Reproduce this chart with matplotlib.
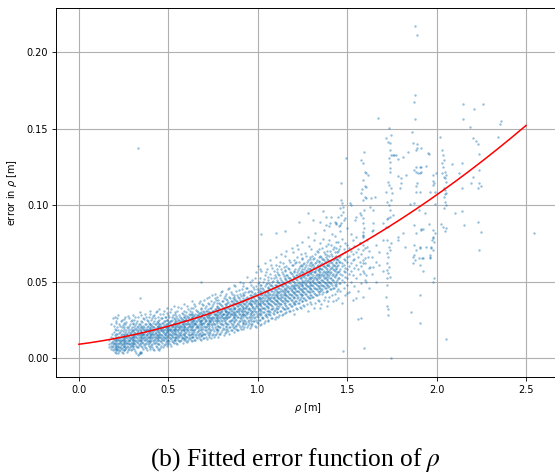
import numpy as np
import matplotlib
matplotlib.use("Agg")
import matplotlib.pyplot as plt

# ---------------- data ----------------
# dense cloud, set A: column x position [m] -> error values in mm
cloud_cols = [
    (0.17, [7, 9, 12]),
    (0.18, [6, 8, 10, 14, 22]),
    (0.19, [5, 8, 9, 11, 13, 26]),
    (0.20, [4, 7, 9, 10, 12, 15, 19, 27]),
    (0.21, [5, 6, 8, 11, 13, 16, 24]),
    (0.22, [3, 6, 8, 9, 12, 14, 18, 28]),
    (0.23, [5, 7, 10, 11, 13, 17, 21]),
    (0.24, [4, 6, 9, 12, 14, 16, 20, 25]),
    (0.25, [5, 8, 10, 11, 13, 15, 19, 23]),
    (0.26, [6, 7, 9, 12, 14, 17, 22, 27]),
    (0.27, [4, 8, 10, 13, 15, 16, 20]),
    (0.28, [6, 9, 11, 12, 14, 18, 21, 26]),
    (0.29, [5, 8, 10, 13, 15, 17, 19, 24]),
    (0.30, [7, 9, 12, 14, 16, 18, 22, 28]),
    (0.31, [6, 10, 11, 13, 15, 17, 20, 25]),
    (0.32, [3, 8, 11, 14, 16, 19, 23]),
    (0.33, [2, 7, 10, 12, 15, 17, 18, 21, 27]),
    (0.34, [3, 4, 9, 11, 13, 16, 18, 22, 30]),
    (0.35, [3, 8, 12, 14, 15, 17, 20, 24]),
    (0.36, [6, 10, 13, 15, 16, 19, 21, 26]),
    (0.37, [7, 9, 12, 14, 17, 18, 22, 29]),
    (0.38, [5, 11, 13, 15, 16, 18, 20, 25]),
    (0.39, [8, 10, 12, 14, 17, 19, 23, 27]),
    (0.40, [6, 11, 14, 15, 18, 20, 22, 31]),
    (0.41, [7, 9, 13, 16, 17, 19, 21, 26]),
    (0.42, [5, 10, 12, 15, 18, 20, 24, 28]),
    (0.43, [8, 11, 14, 16, 17, 19, 22, 30]),
    (0.44, [6, 12, 13, 15, 18, 21, 23, 27]),
    (0.45, [5, 9, 14, 16, 17, 20, 22, 25, 32]),
    (0.46, [8, 11, 13, 15, 18, 19, 21, 26]),
    (0.47, [7, 12, 14, 17, 18, 20, 23, 29]),
    (0.48, [9, 13, 15, 16, 19, 21, 24, 27]),
    (0.49, [8, 11, 14, 17, 18, 20, 22, 25, 33]),
    (0.50, [10, 12, 15, 17, 19, 21, 23, 28]),
    (0.51, [9, 13, 16, 18, 19, 22, 24, 30]),
    (0.52, [11, 14, 15, 17, 20, 21, 25, 27]),
    (0.53, [10, 12, 16, 18, 19, 22, 23, 26, 34]),
    (0.54, [12, 14, 17, 19, 20, 22, 24, 29]),
    (0.55, [9, 13, 15, 18, 21, 23, 26, 31]),
    (0.56, [11, 14, 16, 19, 20, 22, 25, 28]),
    (0.57, [12, 15, 17, 18, 21, 24, 26, 33]),
    (0.58, [10, 13, 16, 19, 22, 23, 25, 29]),
    (0.59, [13, 15, 18, 20, 21, 24, 27, 35]),
    (0.60, [11, 14, 17, 19, 22, 25, 26, 30]),
    (0.61, [12, 16, 18, 20, 23, 24, 27, 32]),
    (0.62, [13, 15, 19, 21, 22, 25, 28, 31]),
    (0.63, [11, 14, 17, 20, 23, 26, 27, 29, 37]),
    (0.64, [14, 16, 18, 21, 24, 25, 28, 33]),
    (0.65, [12, 15, 19, 22, 23, 26, 29, 34]),
    (0.66, [13, 17, 20, 21, 24, 27, 28, 31]),
    (0.67, [14, 16, 18, 22, 25, 26, 29, 36]),
    (0.68, [12, 15, 19, 23, 24, 27, 30, 33, 50]),
    (0.69, [15, 17, 20, 22, 25, 28, 29, 35]),
    (0.70, [13, 16, 21, 23, 26, 27, 30, 38]),
    (0.71, [14, 18, 20, 24, 25, 28, 31, 34]),
    (0.72, [16, 19, 22, 23, 26, 29, 32, 36]),
    (0.73, [15, 17, 21, 24, 27, 28, 30, 40]),
    (0.74, [13, 18, 22, 25, 26, 29, 33, 37]),
    (0.75, [16, 19, 23, 24, 27, 30, 31, 35]),
    (0.76, [15, 20, 22, 25, 28, 29, 32, 39, 42]),
    (0.77, [17, 19, 24, 26, 27, 30, 34, 36]),
    (0.78, [14, 18, 21, 25, 28, 31, 33, 38]),
    (0.79, [16, 20, 23, 26, 29, 30, 35, 41]),
    (0.80, [18, 22, 24, 27, 28, 31, 34, 37, 44]),
    (0.81, [15, 19, 25, 26, 29, 32, 33, 39]),
    (0.82, [17, 21, 23, 27, 30, 31, 35, 42]),
    (0.83, [19, 22, 26, 28, 29, 33, 36, 38]),
    (0.84, [16, 20, 24, 27, 30, 32, 34, 40, 46]),
    (0.85, [18, 23, 25, 29, 31, 33, 37, 43]),
    (0.86, [20, 22, 26, 28, 30, 34, 36, 39]),
    (0.87, [17, 24, 27, 29, 32, 33, 38, 41, 48]),
    (0.88, [19, 21, 25, 28, 31, 35, 37, 44]),
    (0.89, [18, 23, 27, 30, 32, 34, 36, 40]),
    (0.90, [20, 24, 26, 29, 33, 35, 38, 42, 50]),
    (0.91, [21, 25, 28, 30, 31, 34, 37, 45]),
    (0.92, [19, 23, 27, 29, 32, 36, 39, 41, 47]),
    (0.93, [22, 24, 28, 31, 33, 35, 38, 43]),
    (0.94, [20, 26, 29, 30, 34, 37, 40, 46, 53]),
    (0.95, [23, 25, 27, 32, 33, 36, 39, 44]),
    (0.96, [21, 24, 28, 31, 35, 38, 41, 48]),
    (0.97, [22, 27, 30, 33, 34, 37, 40, 43, 51]),
    (0.98, [24, 26, 29, 32, 36, 39, 42, 45]),
    (0.99, [20, 25, 30, 34, 35, 38, 41, 47, 56]),
    (1.00, [23, 27, 31, 33, 36, 40, 43, 49, 60]),
    (1.01, [25, 28, 32, 35, 37, 39, 42, 46, 52]),
    (1.02, [22, 29, 31, 34, 38, 41, 44, 48, 57]),
    (1.03, [26, 30, 33, 36, 37, 40, 45, 50]),
    (1.04, [24, 28, 32, 35, 39, 42, 43, 47, 54, 62]),
    (1.05, [27, 31, 34, 37, 38, 41, 44, 49, 58]),
    (1.06, [25, 29, 33, 36, 40, 43, 46, 51]),
    (1.07, [28, 30, 35, 38, 39, 42, 45, 48, 55, 64]),
    (1.08, [26, 32, 34, 37, 41, 44, 47, 50, 59]),
    (1.09, [29, 31, 36, 39, 40, 43, 46, 52, 57]),
    (1.10, [27, 33, 35, 38, 42, 45, 48, 53, 61, 66]),
    (1.11, [30, 32, 37, 40, 41, 44, 47, 50, 56]),
    (1.12, [28, 34, 36, 39, 43, 46, 49, 54, 60]),
    (1.13, [31, 35, 38, 40, 42, 45, 48, 51, 58, 68]),
    (1.14, [29, 33, 37, 41, 44, 47, 50, 55, 62]),
    (1.15, [32, 36, 39, 42, 43, 46, 49, 52, 57]),
    (1.16, [30, 34, 38, 41, 45, 48, 51, 54, 60, 70]),
    (1.17, [33, 37, 40, 43, 44, 47, 50, 53, 59]),
    (1.18, [31, 35, 39, 42, 46, 49, 52, 56, 63]),
    (1.19, [34, 38, 41, 44, 45, 48, 51, 55, 61, 72]),
    (1.20, [29, 36, 40, 43, 47, 50, 53, 57, 64]),
    (1.21, [35, 37, 42, 45, 46, 49, 52, 58, 62]),
    (1.22, [32, 39, 41, 44, 48, 51, 54, 56, 66, 74]),
    (1.23, [36, 38, 43, 46, 47, 50, 55, 59, 63]),
    (1.24, [33, 40, 42, 45, 49, 52, 53, 57, 61, 68]),
    (1.25, [37, 41, 44, 47, 48, 51, 56, 60, 65, 76]),
    (1.26, [34, 39, 43, 46, 50, 53, 54, 58, 62]),
    (1.27, [38, 42, 45, 48, 49, 52, 57, 61, 67]),
    (1.28, [31, 40, 44, 47, 51, 54, 55, 59, 64, 79]),
    (1.29, [39, 43, 46, 49, 50, 53, 58, 62, 66]),
    (1.30, [35, 41, 45, 48, 52, 55, 56, 60, 63, 71]),
    (1.31, [40, 44, 47, 50, 51, 54, 59, 61, 65]),
    (1.32, [36, 42, 46, 49, 53, 56, 57, 62, 68, 82]),
    (1.33, [41, 45, 48, 51, 52, 55, 60, 64, 70]),
    (1.34, [37, 43, 47, 50, 54, 57, 58, 63, 66]),
    (1.35, [33, 44, 46, 49, 53, 56, 59, 61, 67, 75]),
    (1.36, [42, 45, 48, 51, 55, 58, 62, 65, 72]),
    (1.37, [38, 47, 50, 52, 54, 57, 60, 64, 69, 84]),
    (1.38, [43, 46, 49, 53, 56, 59, 63, 66, 73]),
    (1.39, [34, 44, 48, 51, 55, 58, 61, 65, 70]),
    (1.40, [40, 47, 50, 54, 57, 60, 62, 67, 77, 86]),
    (1.41, [45, 49, 52, 56, 59, 63, 68, 74]),
    (1.42, [37, 46, 51, 55, 58, 61, 64, 71]),
    (1.43, [42, 48, 53, 57, 60, 66, 69, 80]),
    (1.44, [47, 50, 54, 59, 62, 65, 72, 88]),
    (1.45, [39, 45, 52, 56, 61, 64, 70, 76]),
    (1.46, [44, 49, 55, 58, 63, 67, 73, 83]),
    (1.47, [36, 51, 54, 60, 62, 68, 78]),
    (1.48, [46, 50, 57, 61, 65, 71, 90]),
    (1.49, [41, 53, 56, 59, 64, 69, 75]),
    (1.50, [48, 52, 58, 63, 66, 74, 85]),
    (1.51, [43, 55, 60, 67, 72]),
    (1.52, [50, 57, 62, 70, 81]),
    (1.53, [38, 54, 64, 68, 77]),
    (1.54, [47, 59, 65, 73]),
    (1.55, [52, 61, 69, 79]),
    (1.56, [44, 58, 66, 71]),
    (1.57, [55, 63, 75]),
    (1.58, [49, 60, 68]),
    (1.59, [57, 64, 80]),
    (1.60, [51, 62, 72]),
    (1.62, [46, 59, 70]),
    (1.64, [55, 66, 83]),
    (1.66, [50, 63, 74]),
    (1.68, [61, 69]),
    (1.70, [57, 77]),
]

# dense cloud, set B (columns in between set A): x [m] -> error in mm
cloud_cols_b = [
    (0.185, [7.5, 10.5, 16]),
    (0.195, [6, 9.5, 12.5, 17, 21]),
    (0.205, [3.5, 6.5, 8.5, 11.5, 14, 18, 23]),
    (0.215, [5.5, 7.5, 10, 12.5, 15.5, 20, 26]),
    (0.225, [4.5, 7, 9.5, 11.5, 13.5, 16.5, 22]),
    (0.235, [6.5, 8.5, 10.5, 12, 15, 18.5, 24]),
    (0.245, [3, 7.5, 9, 11.5, 13.5, 17.5, 21.5]),
    (0.255, [5.5, 8, 10.5, 12.5, 14.5, 16, 20.5, 25.5]),
    (0.265, [6.5, 9.5, 11, 13.5, 15.5, 18.5, 23.5]),
    (0.275, [5, 7.5, 10, 12, 14.5, 17, 19.5, 27.5]),
    (0.285, [7, 9, 11.5, 13, 15.5, 16.5, 22.5]),
    (0.295, [6, 8.5, 10.5, 12.5, 14, 17.5, 20.5, 25]),
    (0.305, [8, 10, 11.5, 13.5, 15, 18.5, 23]),
    (0.315, [4.5, 9, 12, 14.5, 16.5, 19, 21.5, 26.5]),
    (0.325, [7.5, 10.5, 13, 15.5, 17.5, 20, 24.5]),
    (0.335, [2.5, 8.5, 11.5, 13.5, 16, 19.5, 22.5]),
    (0.345, [4, 9.5, 12, 14.5, 17, 18.5, 21, 28]),
    (0.355, [7, 10.5, 13, 15.5, 16.5, 19.5, 23.5]),
    (0.365, [8.5, 11.5, 13.5, 16, 18, 20.5, 25.5]),
    (0.375, [6.5, 10, 12.5, 15, 17.5, 19, 22, 27]),
    (0.385, [9, 11, 14, 16.5, 18.5, 21, 24]),
    (0.395, [7, 10.5, 13, 15.5, 17, 19.5, 22.5, 29]),
    (0.405, [8.5, 12, 14.5, 16, 18.5, 21.5, 25]),
    (0.415, [6, 11, 13.5, 15.5, 17.5, 20, 23, 27.5]),
    (0.425, [9.5, 12.5, 14, 16.5, 19, 22, 26]),
    (0.435, [7.5, 10, 13, 15, 18, 20.5, 23.5, 31]),
    (0.445, [9, 12, 14.5, 17, 19.5, 21, 24.5]),
    (0.455, [6.5, 11, 13.5, 16, 18.5, 20, 22.5, 28.5]),
    (0.465, [10, 12.5, 15, 17.5, 19.5, 23, 26]),
    (0.475, [8.5, 11.5, 14, 16.5, 18, 21.5, 24, 30.5]),
    (0.485, [10.5, 13, 15.5, 17, 20, 22.5, 27]),
    (0.495, [9, 12, 14.5, 18.5, 19.5, 21, 25, 29.5]),
    (0.505, [11, 13.5, 16, 18, 20.5, 23.5, 26.5]),
    (0.515, [8, 12.5, 15, 17.5, 19, 21.5, 24.5, 32]),
    (0.525, [10.5, 14, 16.5, 18.5, 21, 22.5, 28]),
    (0.535, [11.5, 13, 15.5, 17.5, 20, 23, 25.5, 30]),
    (0.545, [10, 13.5, 16, 19, 21.5, 24, 27.5]),
    (0.555, [12, 14.5, 17, 18.5, 20.5, 22, 25, 33.5]),
    (0.565, [11, 15, 16.5, 19.5, 21, 23.5, 27]),
    (0.575, [13, 14, 18, 20, 22.5, 25.5, 29.5]),
    (0.585, [11.5, 15.5, 17.5, 19, 21.5, 24, 26.5, 31]),
    (0.595, [12.5, 14.5, 16.5, 20.5, 23, 25, 28]),
    (0.605, [10.5, 13.5, 18, 19.5, 22, 24.5, 27.5, 34]),
    (0.615, [13, 15, 17, 21, 22.5, 26, 29]),
    (0.625, [12, 16, 18.5, 20, 23.5, 25.5, 28.5, 32.5]),
    (0.635, [14, 15.5, 19, 21.5, 24, 26.5, 30]),
    (0.645, [11.5, 17, 18, 22, 23, 25, 27.5, 35]),
    (0.655, [13.5, 16, 20, 22.5, 24.5, 27, 31.5]),
    (0.665, [15, 17.5, 19.5, 21, 25.5, 28, 30]),
    (0.675, [12.5, 16.5, 20.5, 23.5, 24, 26.5, 29.5, 37]),
    (0.685, [14.5, 18, 21.5, 22, 25, 27.5, 32]),
    (0.695, [13, 16, 19, 23, 26, 28.5, 30.5, 34.5]),
    (0.705, [15.5, 18.5, 20, 24.5, 25.5, 29, 33]),
    (0.715, [12.5, 17, 21, 22.5, 26.5, 27.5, 31, 39]),
    (0.725, [14, 19.5, 22, 25, 28, 30, 35]),
    (0.735, [16.5, 18, 23.5, 24, 26, 29.5, 32.5]),
    (0.745, [15, 20.5, 21.5, 25.5, 27, 30.5, 34, 41]),
    (0.755, [13.5, 17.5, 22.5, 26, 28.5, 31, 36.5]),
    (0.765, [16, 19, 24.5, 27, 29, 32, 38]),
    (0.775, [18, 21, 23, 25.5, 28, 30.5, 33.5, 40]),
    (0.785, [15.5, 20, 24, 26.5, 29.5, 32.5, 36]),
    (0.795, [17, 22.5, 25, 27.5, 30, 31.5, 34.5, 43]),
    (0.805, [19.5, 21.5, 26, 28.5, 29, 33, 37.5]),
    (0.815, [16.5, 23, 24.5, 27, 30.5, 32, 35.5, 40.5]),
    (0.825, [18.5, 20.5, 25.5, 28, 31, 34, 38.5]),
    (0.835, [17.5, 22, 26.5, 29.5, 30, 33.5, 36.5, 45]),
    (0.845, [20, 24, 27.5, 29, 32, 35, 39.5]),
    (0.855, [18, 21.5, 25, 28.5, 31.5, 34.5, 37, 42]),
    (0.865, [19.5, 23.5, 27, 30, 32.5, 36, 40]),
    (0.875, [21, 25.5, 28, 29.5, 33, 35.5, 38.5, 47]),
    (0.885, [18.5, 22.5, 26.5, 31, 34, 37.5, 41.5]),
    (0.895, [21.5, 24.5, 28.5, 30.5, 32, 35, 39, 44.5]),
    (0.905, [19, 26, 27.5, 31.5, 34.5, 36.5, 40.5]),
    (0.915, [22, 23.5, 29, 32.5, 33.5, 37, 42.5, 49]),
    (0.925, [20.5, 25, 28, 30.5, 35.5, 38, 41]),
    (0.935, [23, 26.5, 29.5, 33, 34, 36.5, 39.5, 45.5]),
    (0.945, [21.5, 24.5, 30, 32, 35, 38.5, 43]),
    (0.955, [19.5, 27, 28.5, 31.5, 36, 37.5, 41.5, 50]),
    (0.965, [22.5, 25.5, 29.5, 34.5, 35.5, 39, 44]),
    (0.975, [24, 28, 31, 33.5, 37, 40.5, 46.5]),
    (0.985, [21, 26.5, 30.5, 32.5, 36.5, 38, 42.5, 52]),
    (0.995, [23.5, 27.5, 29, 34, 37.5, 41, 45]),
    (1.005, [25, 28.5, 32, 35.5, 38.5, 40, 44.5, 49.5]),
    (1.015, [21.5, 29.5, 31.5, 34.5, 36, 39.5, 43, 47.5, 58]),
    (1.025, [26, 27, 33, 36.5, 39, 42, 46]),
    (1.035, [23, 30, 32.5, 35, 38, 41.5, 44, 51.5]),
    (1.045, [27.5, 29, 34, 37.5, 40.5, 43.5, 48.5, 56]),
    (1.055, [24.5, 31, 33.5, 36, 39.5, 42.5, 46.5, 53]),
    (1.065, [28.5, 30.5, 35.5, 38.5, 41, 45, 49]),
    (1.075, [26, 32, 34.5, 37, 40, 44, 47.5, 52.5, 61]),
    (1.085, [29.5, 33, 36.5, 39.5, 42, 45.5, 50.5]),
    (1.095, [25.5, 31.5, 35, 38, 41.5, 44.5, 48, 54.5]),
    (1.105, [30, 34, 37.5, 40.5, 43, 47, 51, 58.5]),
    (1.115, [27, 32.5, 36, 39, 42.5, 46, 49.5, 55]),
    (1.125, [31, 35, 38.5, 41.5, 44, 48, 52.5, 63]),
    (1.135, [28, 33.5, 37, 40, 43.5, 47, 50, 56.5]),
    (1.145, [32, 36, 39.5, 42.5, 45, 49, 53.5, 59.5]),
    (1.155, [29.5, 34.5, 38, 41, 44.5, 48.5, 51.5, 57.5, 67]),
    (1.165, [33, 37, 40.5, 43.5, 46.5, 50, 54.5]),
    (1.175, [30.5, 35.5, 39, 42, 45.5, 49.5, 52.5, 58.5, 64]),
    (1.185, [34, 38, 41.5, 44.5, 47, 51, 55.5]),
    (1.195, [31.5, 36.5, 40, 43, 46.5, 50.5, 53.5, 60.5, 69]),
    (1.205, [35, 39, 42.5, 45.5, 48, 52, 56.5]),
    (1.215, [32.5, 37.5, 41, 44, 47.5, 51.5, 54.5, 62.5]),
    (1.225, [36, 40, 43.5, 46.5, 49, 53, 57.5, 71]),
    (1.235, [33.5, 38.5, 42, 45, 48.5, 52.5, 55.5, 60]),
    (1.245, [37, 41, 44.5, 47.5, 50, 54, 58.5, 65.5]),
    (1.255, [34.5, 39.5, 43, 46, 49.5, 53.5, 56.5, 61.5]),
    (1.265, [38, 42, 45.5, 48.5, 51, 55, 59.5, 68.5]),
    (1.275, [35.5, 40.5, 44, 47, 50.5, 54.5, 57.5, 63]),
    (1.285, [39, 43, 46.5, 49.5, 52, 56, 60.5, 73]),
    (1.295, [36.5, 41.5, 45, 48, 51.5, 55.5, 58.5, 64.5]),
    (1.305, [40, 44, 47.5, 50.5, 53, 57, 61.5, 67]),
    (1.315, [33, 42.5, 46, 49, 52.5, 56.5, 59.5, 65.5, 77]),
    (1.325, [41, 45, 48.5, 51.5, 54, 58, 62.5]),
    (1.335, [38, 43.5, 47, 50, 53.5, 57.5, 60.5, 69]),
    (1.345, [42, 46, 49.5, 52.5, 55, 59, 63.5, 71.5]),
    (1.355, [35, 44.5, 48, 51, 54.5, 58.5, 61.5, 66]),
    (1.365, [43, 47, 50.5, 53.5, 56, 60, 64.5, 78]),
    (1.375, [40, 45.5, 49, 52, 55.5, 59.5, 62.5, 68]),
    (1.385, [44, 48, 51.5, 54.5, 57, 61, 67.5]),
    (1.395, [37, 46.5, 50, 53, 56.5, 60.5, 64, 74.5]),
    (1.405, [45, 49, 52.5, 55.5, 58, 63.5, 70]),
    (1.415, [41, 47.5, 51, 54, 59.5, 62, 66.5, 81]),
    (1.425, [46, 50, 53.5, 57.5, 61, 65, 72.5]),
    (1.435, [38, 48.5, 55, 58.5, 63, 67, 76]),
    (1.445, [44, 51, 56, 60, 64.5, 69.5]),
    (1.455, [49, 52.5, 57, 62.5, 66, 71.5, 86]),
]

# sparse / outlying samples (rho [m], error [m])
sparse_pts = [
    (0.33, 0.137), (0.339, 0.039), (1.017, 0.081), (1.101, 0.0815),
    (1.151, 0.083), (1.231, 0.0891), (1.281, 0.0946), (1.309, 0.0902),
    (1.346, 0.0891), (1.365, 0.0961), (1.384, 0.0924), (1.384, 0.0869),
    (1.402, 0.088), (1.412, 0.0924), (1.43, 0.0891), (1.44, 0.0876),
    (1.449, 0.0924), (1.458, 0.0978), (1.458, 0.0869), (1.464, 0.1033),
    (1.467, 0.1142), (1.467, 0.0935), (1.467, 0.088), (1.469, 0.1011),
    (1.477, 0.0989), (1.477, 0.0956), (1.486, 0.0913), (1.492, 0.1307),
    (1.514, 0.1011), (1.523, 0.1), (1.542, 0.0902), (1.551, 0.0924),
    (1.570, 0.0946), (1.579, 0.0935), (1.588, 0.0913), (1.592, 0.0967),
    (1.579, 0.1076), (1.585, 0.1103), (1.588, 0.1033), (1.598, 0.1054),
    (1.607, 0.1044), (1.588, 0.1163), (1.598, 0.1124), (1.607, 0.1116),
    (1.598, 0.1218), (1.607, 0.1207), (1.616, 0.1196), (1.588, 0.1272),
    (1.579, 0.1294), (1.594, 0.1348), (1.626, 0.0989), (1.644, 0.0967),
    (1.635, 0.1044), (1.654, 0.1054), (1.645, 0.088), (1.645, 0.0837),
    (1.645, 0.0597), (1.674, 0.1567), (1.59, 0.088), (1.592, 0.0848),
    (1.588, 0.0826), (1.591, 0.0804), (1.586, 0.0739), (1.59, 0.0619),
    (1.593, 0.0554), (1.589, 0.0401), (1.575, 0.026), (1.596, 0.0065),
    (1.477, 0.0048), (1.56, 0.0255), (1.501, 0.0423), (1.547, 0.039),
    (1.607, 0.0499), (1.603, 0.0542), (1.626, 0.0597), (1.616, 0.0662),
    (1.598, 0.0652), (1.589, 0.0706), (1.611, 0.0728), (1.570, 0.0749),
    (1.589, 0.0793), (1.611, 0.0771),
    (1.70, 0.088), (1.715, 0.0858), (1.728, 0.0913), (1.741, 0.0924),
    (1.756, 0.0935), (1.719, 0.1087), (1.752, 0.1076), (1.728, 0.1152),
    (1.734, 0.1131), (1.747, 0.1109), (1.737, 0.124), (1.741, 0.1218),
    (1.741, 0.1283), (1.734, 0.1305), (1.747, 0.1327), (1.756, 0.1327),
    (1.775, 0.1327), (1.737, 0.136), (1.737, 0.1403), (1.728, 0.1414),
    (1.719, 0.1436), (1.732, 0.1501), (1.747, 0.1458), (1.745, 0.1033),
    (1.72, 0.1022), (1.735, 0.1), (1.74, 0.0967), (1.725, 0.0907),
    (1.73, 0.0859), (1.72, 0.0771), (1.735, 0.0728), (1.72, 0.0684),
    (1.73, 0.0662), (1.725, 0.0619), (1.735, 0.0597), (1.73, 0.0554),
    (1.74, 0.0532), (1.722, 0.0477), (1.719, 0.040), (1.722, 0.034),
    (1.726, 0.0318), (1.728, 0.0281), (1.747, 0.0), (1.72, 0.0575),
    (1.72, 0.0521), (1.745, 0.0749), (1.74, 0.0706),
    (1.760, 0.1325), (1.782, 0.1303), (1.784, 0.119), (1.803, 0.1174),
    (1.831, 0.1196), (1.793, 0.1109), (1.812, 0.1316), (1.84, 0.1348),
    (1.864, 0.1479), (1.812, 0.0815), (1.784, 0.0793), (1.821, 0.0728),
    (1.784, 0.0771), (1.859, 0.0303), (1.905, 0.0412), (1.905, 0.0231),
    (1.803, 0.1142),
    (1.881, 0.2172), (1.888, 0.2113), (1.879, 0.1719), (1.872, 0.1673),
    (1.881, 0.1562),
    (1.868, 0.1403), (1.89, 0.137), (1.914, 0.137), (1.886, 0.136),
    (1.892, 0.1399), (1.872, 0.1229), (1.896, 0.1207), (1.914, 0.1218),
    (1.885, 0.1214), (1.883, 0.125), (1.909, 0.1246), (1.939, 0.1255),
    (1.914, 0.125), (1.909, 0.1207), (1.89, 0.1142), (1.884, 0.1124),
    (1.884, 0.1087), (1.905, 0.1087), (1.873, 0.1011), (1.851, 0.1007),
    (1.901, 0.0967), (1.933, 0.0946), (1.914, 0.0837), (1.872, 0.0739),
    (1.905, 0.0728), (1.868, 0.0662), (1.901, 0.0652), (1.909, 0.0608),
    (1.883, 0.0706), (1.872, 0.0673), (1.881, 0.0641), (1.92, 0.0652),
    (1.868, 0.0619), (1.873, 0.0871), (1.911, 0.0845), (1.926, 0.0845),
    (1.957, 0.0876), (1.939, 0.0728), (1.909, 0.0717), (1.924, 0.0652),
    (1.961, 0.0652), (1.924, 0.0571), (1.886, 0.0815),
    (1.951, 0.1338), (1.957, 0.1331), (1.98, 0.1196), (1.983, 0.1142),
    (1.98, 0.1159), (1.98, 0.1131), (1.961, 0.1087), (1.989, 0.1087),
    (1.993, 0.101), (1.998, 0.1207), (1.97, 0.0728), (1.961, 0.0673),
    (1.98, 0.0837), (1.98, 0.0782), (1.989, 0.0815), (1.976, 0.0771),
    (1.983, 0.076), (1.97, 0.0717), (1.98, 0.0706), (1.966, 0.0662),
    (1.983, 0.0521), (1.98, 0.0499), (1.98, 0.0793),
    (2.021, 0.1442), (2.03, 0.136), (2.035, 0.1327), (2.04, 0.1294),
    (2.03, 0.1272), (2.035, 0.125), (2.045, 0.1218), (2.03, 0.1207),
    (2.04, 0.1185), (2.05, 0.1196), (2.045, 0.1174), (2.05, 0.1152),
    (2.041, 0.1109), (2.048, 0.107), (2.045, 0.1098), (2.054, 0.1076),
    (2.039, 0.1054), (2.045, 0.1022), (2.05, 0.1), (2.039, 0.0978),
    (2.026, 0.0876), (2.035, 0.0858), (2.05, 0.0848), (2.045, 0.0832),
    (2.05, 0.0122),
    (2.088, 0.127), (2.143, 0.1272), (2.128, 0.1211), (2.141, 0.1113),
    (2.101, 0.095), (2.143, 0.0963), (2.152, 0.0869),
    (2.147, 0.166), (2.149, 0.156), (2.186, 0.1508), (2.203, 0.1436),
    (2.212, 0.1625), (2.259, 0.166), (2.222, 0.142), (2.231, 0.1399),
    (2.24, 0.1335), (2.24, 0.1229), (2.203, 0.1185), (2.194, 0.1142),
    (2.236, 0.1142), (2.25, 0.1126), (2.233, 0.1113), (2.231, 0.0887),
    (2.246, 0.0826), (2.24, 0.0706), (2.345, 0.1444), (2.352, 0.1529),
    (2.361, 0.1551), (2.542, 0.0819),
]

# fitted quadratic error model: err = c0 + c1*rho + c2*rho^2
fit_coeffs = [0.009, 0.0152, 0.0168]
fit_range = [0.0, 2.5]

x_ticks = [0.0, 0.5, 1.0, 1.5, 2.0, 2.5]
y_ticks = [0.00, 0.05, 0.10, 0.15, 0.20]

# ---------------- assemble ----------------
cx, cy = [], []
for cols in (cloud_cols, cloud_cols_b):
    for xc, vals in cols:
        for v in vals:
            cx.append(xc)
            cy.append(v / 1000.0)
sx = [p[0] for p in sparse_pts]
sy = [p[1] for p in sparse_pts]
all_x = np.array(cx + sx)
all_y = np.array(cy + sy)

rho = np.linspace(fit_range[0], fit_range[1], 200)
err_fit = fit_coeffs[0] + fit_coeffs[1] * rho + fit_coeffs[2] * rho ** 2

# ---------------- plot ----------------
plt.rcParams['mathtext.fontset'] = 'dejavusans'
fig = plt.figure(figsize=(5.55, 4.73), dpi=100)
ax = fig.add_axes([56 / 555, 1 - 377 / 473, (575 - 56) / 555, (377 - 8) / 473])

ax.scatter(all_x, all_y, s=3, color='#1f77b4', alpha=0.48, linewidths=0, zorder=2)
ax.plot(rho, err_fit, color='red', linewidth=1.1, zorder=3)

# x range chosen so that the axes' right edge falls outside the (cropped) figure
ax.set_xlim(-0.128, 2.774)
ax.set_ylim(-0.0124, 0.2288)
ax.set_xticks(x_ticks)
ax.set_yticks(y_ticks)
ax.set_xticklabels([f"{t:.1f}" for t in x_ticks])
ax.set_yticklabels([f"{t:.2f}" for t in y_ticks])
ax.tick_params(labelsize=7, length=3, width=0.6, pad=2.5)
ax.grid(True, color='#b0b0b0', linewidth=0.8, zorder=0)
ax.set_axisbelow(True)
for s in ax.spines.values():
    s.set_linewidth(0.7)
ax.spines['right'].set_visible(False)

ax.set_xlabel(r"$\rho$ [m]", fontsize=7, labelpad=4)
ax.xaxis.set_label_coords((308 - 56) / (575 - 56), -0.065)
ax.set_ylabel(r"error in $\rho$ [m]", fontsize=7, labelpad=6)

fig.text(0.533, 0.027, r"(b) Fitted error function of $\rho$",
         fontsize=18.4, family='Liberation Serif', ha='center', va='center',
         math_fontfamily='stix')

fig.savefig("out.png", dpi=100)
